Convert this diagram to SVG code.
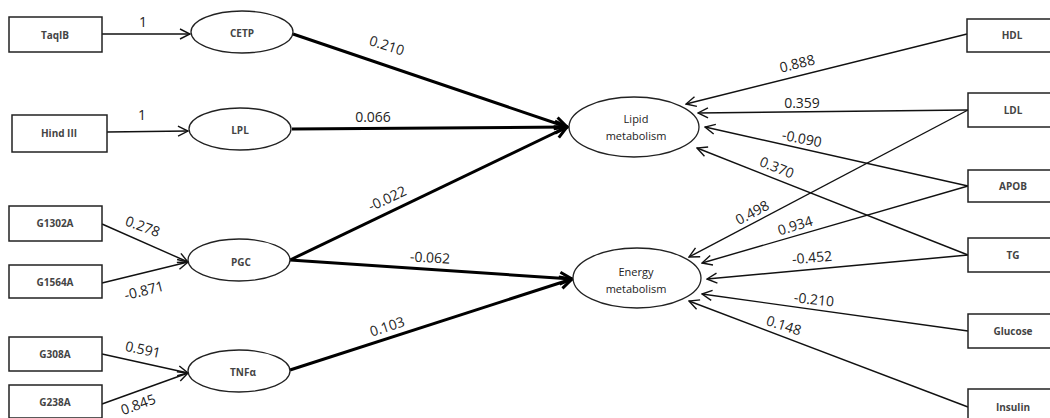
<svg xmlns="http://www.w3.org/2000/svg" width="1050" height="418" viewBox="0 0 1050 418">
<defs>
<marker id="thin" viewBox="0 0 12 12" refX="11" refY="6" markerWidth="12" markerHeight="12" orient="auto" markerUnits="userSpaceOnUse">
<path d="M1,1 L11,6 L1,11" fill="none" stroke="#111" stroke-width="1.4"/>
</marker>
<marker id="thick" viewBox="0 0 16 16" refX="14" refY="8" markerWidth="16" markerHeight="16" orient="auto" markerUnits="userSpaceOnUse">
<path d="M2,2 L14,8 L2,14" fill="none" stroke="#000" stroke-width="3" stroke-linejoin="miter"/>
</marker>
<style>
.box{fill:#fff;stroke:#222;stroke-width:1.5}
.ell{fill:#fff;stroke:#222;stroke-width:1.3}
.nt{font-family:"Open Sans","Liberation Sans",sans-serif;font-size:10px;font-weight:bold;fill:#444;text-anchor:middle;dominant-baseline:central}
.et{font-family:"Open Sans","Liberation Sans",sans-serif;font-size:11px;fill:#222;text-anchor:middle;dominant-baseline:central}
.lbl{font-family:"Open Sans","Liberation Sans",sans-serif;font-size:14px;fill:#222;text-anchor:middle;dominant-baseline:central}
.tn{stroke:#111;stroke-width:1.4;fill:none;marker-end:url(#thin)}
.tk{stroke:#000;stroke-width:3;fill:none;marker-end:url(#thick)}
</style>
</defs>
<rect width="1050" height="418" fill="#fff"/>
<g id="connectors">
<line class="tn" x1="102" y1="34" x2="190" y2="34"/>
<line class="tn" x1="107" y1="132" x2="188" y2="131"/>
<line class="tn" x1="102" y1="224" x2="188" y2="262"/>
<line class="tn" x1="102" y1="283" x2="188" y2="262"/>
<line class="tn" x1="102" y1="354" x2="188" y2="373"/>
<line class="tn" x1="102" y1="404" x2="188" y2="373"/>
<line class="tk" x1="293" y1="34" x2="567" y2="127"/>
<line class="tk" x1="292" y1="129" x2="567" y2="127"/>
<line class="tk" x1="290" y1="260" x2="567" y2="127"/>
<line class="tk" x1="290" y1="260" x2="572" y2="279"/>
<line class="tk" x1="290" y1="370" x2="572" y2="279"/>
<line class="tn" x1="967" y1="34" x2="686" y2="104"/>
<line class="tn" x1="968" y1="110" x2="698" y2="113"/>
<line class="tn" x1="968" y1="186" x2="705" y2="127"/>
<line class="tn" x1="968" y1="255" x2="697" y2="148"/>
<line class="tn" x1="968" y1="110" x2="689" y2="257"/>
<line class="tn" x1="968" y1="186" x2="702" y2="263"/>
<line class="tn" x1="968" y1="255" x2="707" y2="279"/>
<line class="tn" x1="968" y1="331" x2="702" y2="294"/>
<line class="tn" x1="968" y1="407" x2="689" y2="301"/>
<text class="lbl" x="143" y="21">1</text>
<text class="lbl" x="142" y="114">1</text>
<text class="lbl" transform="translate(143,226) rotate(20)">0.278</text>
<text class="lbl" transform="translate(144,290) rotate(-14)">-0.871</text>
<text class="lbl" transform="translate(143,349) rotate(12)">0.591</text>
<text class="lbl" transform="translate(138,404) rotate(-20)">0.845</text>
<text class="lbl" transform="translate(387,45) rotate(18)">0.210</text>
<text class="lbl" x="373" y="116">0.066</text>
<text class="lbl" transform="translate(387,198) rotate(-25)">-0.022</text>
<text class="lbl" transform="translate(430,257) rotate(3)">-0.062</text>
<text class="lbl" transform="translate(387,326) rotate(-18)">0.103</text>
<text class="lbl" transform="translate(797,63) rotate(-14)">0.888</text>
<text class="lbl" x="802" y="102">0.359</text>
<text class="lbl" transform="translate(802,138) rotate(11)">-0.090</text>
<text class="lbl" transform="translate(777,167) rotate(22)">0.370</text>
<text class="lbl" transform="translate(752,212) rotate(-28)">0.498</text>
<text class="lbl" transform="translate(795,225) rotate(-17)">0.934</text>
<text class="lbl" transform="translate(812,257) rotate(-5)">-0.452</text>
<text class="lbl" transform="translate(814,299) rotate(6)">-0.210</text>
<text class="lbl" transform="translate(784,325) rotate(18)">0.148</text>
</g>
<g id="TaqIB"><rect class="box" x="9" y="17" width="93" height="35"/><text class="nt" x="55" y="35">TaqIB</text></g>
<g id="HindIII"><rect class="box" x="12" y="115" width="95" height="37"/><text class="nt" x="59" y="133">Hind III</text></g>
<g id="G1302A"><rect class="box" x="9" y="206" width="93" height="35"/><text class="nt" x="55" y="223">G1302A</text></g>
<g id="G1564A"><rect class="box" x="9" y="265" width="93" height="33"/><text class="nt" x="55" y="282">G1564A</text></g>
<g id="G308A"><rect class="box" x="9" y="337" width="93" height="34"/><text class="nt" x="55" y="354">G308A</text></g>
<g id="G238A"><rect class="box" x="9" y="385" width="93" height="33"/><text class="nt" x="55" y="402">G238A</text></g>
<g id="CETP"><ellipse class="ell" cx="242" cy="32" rx="51" ry="21"/><text class="nt" x="242" y="33">CETP</text></g>
<g id="LPL"><ellipse class="ell" cx="240" cy="129" rx="51" ry="21"/><text class="nt" x="240" y="130">LPL</text></g>
<g id="PGC"><ellipse class="ell" cx="239" cy="260" rx="51" ry="21"/><text class="nt" x="241" y="262">PGC</text></g>
<g id="TNFa"><ellipse class="ell" cx="239" cy="371" rx="51" ry="21"/><text class="nt" x="243" y="372">TNFα</text></g>
<g id="Lipid"><ellipse class="ell" cx="634" cy="127" rx="65" ry="30"/><text class="et" x="636" y="118">Lipid</text><text class="et" x="636" y="135">metabolism</text></g>
<g id="Energy"><ellipse class="ell" cx="637" cy="278" rx="64" ry="30"/><text class="et" x="636" y="271">Energy</text><text class="et" x="636" y="288">metabolism</text></g>
<g id="HDL"><rect class="box" x="967" y="19" width="95" height="33"/><text class="nt" x="1012" y="35">HDL</text></g>
<g id="LDL"><rect class="box" x="968" y="93" width="95" height="34"/><text class="nt" x="1013" y="110">LDL</text></g>
<g id="APOB"><rect class="box" x="968" y="170" width="95" height="32"/><text class="nt" x="1013" y="186">APOB</text></g>
<g id="TG"><rect class="box" x="968" y="238" width="95" height="34"/><text class="nt" x="1013" y="255">TG</text></g>
<g id="Glucose"><rect class="box" x="968" y="314" width="95" height="34"/><text class="nt" x="1013" y="331">Glucose</text></g>
<g id="Insulin"><rect class="box" x="968" y="389" width="95" height="40"/><text class="nt" x="1013" y="407">Insulin</text></g>
</svg>
